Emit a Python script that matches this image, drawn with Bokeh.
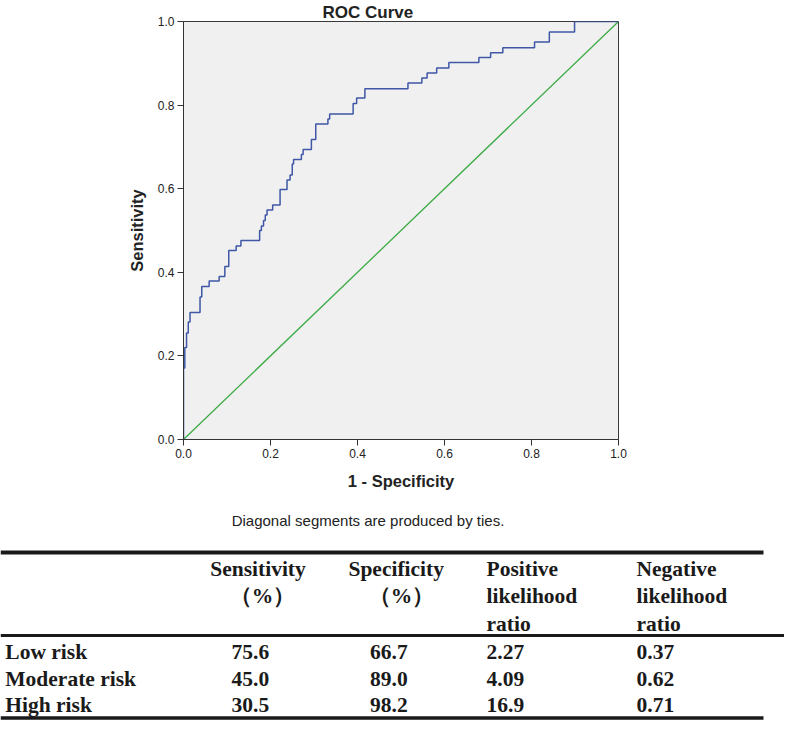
from bokeh.plotting import figure
from bokeh.models import Range1d, FixedTicker, ColumnDataSource
from bokeh.layouts import column
from bokeh.embed import file_html
from bokeh.resources import INLINE
from bokeh.core.properties import value

# ---------------- data ----------------
# ROC curve: at each fpr value the curve rises to the matching tpr value
fpr = [0.000, 0.003, 0.007, 0.011, 0.015, 0.038, 0.042, 0.059, 0.082, 0.095,
       0.104, 0.121, 0.132, 0.175, 0.179, 0.184, 0.188, 0.192, 0.205, 0.222,
       0.238, 0.245, 0.250, 0.253, 0.271, 0.275, 0.294, 0.304, 0.332, 0.336,
       0.390, 0.398, 0.417, 0.516, 0.548, 0.560, 0.582, 0.610, 0.679, 0.706,
       0.734, 0.807, 0.841, 0.899]
tpr = [0.171, 0.220, 0.255, 0.281, 0.304, 0.341, 0.366, 0.379, 0.390, 0.414,
       0.452, 0.463, 0.476, 0.500, 0.511, 0.524, 0.537, 0.549, 0.561, 0.598,
       0.621, 0.633, 0.659, 0.670, 0.682, 0.694, 0.718, 0.755, 0.767, 0.779,
       0.804, 0.817, 0.839, 0.853, 0.865, 0.877, 0.889, 0.902, 0.914, 0.925,
       0.937, 0.951, 0.975, 1.000]
ref_x = [0.0, 1.0]
ref_y = [0.0, 1.0]
axis_ticks = [0.0, 0.2, 0.4, 0.6, 0.8, 1.0]

row_labels = ["Low risk", "Moderate risk", "High risk"]
sensitivity = ["75.6", "45.0", "30.5"]
specificity = ["66.7", "89.0", "98.2"]
plr = ["2.27", "4.09", "16.9"]
nlr = ["0.37", "0.62", "0.71"]
header_sens = ["Sensitivity", "\uff08%\uff09"]
header_spec = ["Specificity", "\uff08%\uff09"]
header_plr = ["Positive", "likelihood", "ratio"]
header_nlr = ["Negative", "likelihood", "ratio"]

W = 784
H1 = 505                  # ROC figure (with its title); table gets the rest
H2 = 720 - H1
FL, FR = 183, 618         # ROC frame left/right (canvas px)
FRAME_BOTTOM = 439

# ---------------- ROC figure ----------------
p = figure(width=W, height=H1, output_backend="svg", toolbar_location=None,
           title="ROC Curve",
           x_range=Range1d(0, 1), y_range=Range1d(0, 1),
           min_border_left=FL, min_border_right=W - FR,
           min_border_top=0, min_border_bottom=H1 - FRAME_BOTTOM)
p.frame_align = False
p.title.align = "left"
p.title.offset = 139
p.title.standoff = 0
p.title.text_font = "Liberation Sans"
p.title.text_font_style = "bold"
p.title.text_font_size = "17px"
p.title.text_color = "#222222"
p.background_fill_color = "#f0f0f0"
p.border_fill_color = "white"
p.outline_line_color = "#3a3a3a"
p.outline_line_width = 1
p.xgrid.visible = False
p.ygrid.visible = False

xs, ys = [0.0], [0.0]
for fx, ty in zip(fpr, tpr):
    xs.append(fx); ys.append(ys[-1])
    xs.append(fx); ys.append(ty)
xs.append(1.0); ys.append(ys[-1])

p.line(ref_x, ref_y, line_color="#3cab45", line_width=1.3)
p.line(xs, ys, line_color="#3f57a6", line_width=1.5)

for ax in (p.xaxis[0], p.yaxis[0]):
    ax.ticker = FixedTicker(ticks=axis_ticks)
    ax.minor_tick_line_color = None
    ax.major_tick_in = 0
    ax.major_tick_out = 6
    ax.major_tick_line_color = "#333333"
    ax.axis_line_color = "#333333"
    ax.major_label_text_font = "Liberation Sans"
    ax.major_label_text_font_size = "12px"
    ax.major_label_text_color = "#222222"
    ax.axis_label_text_font = "Liberation Sans"
    ax.axis_label_text_font_style = "bold"
    ax.axis_label_text_font_size = "16.5px"
    ax.axis_label_text_color = "#222222"
    ax.major_label_standoff = 3
p.xaxis.major_label_overrides = {t: f"{t:.1f}" for t in axis_ticks}
p.yaxis.major_label_overrides = {t: f"{t:.1f}" for t in axis_ticks}
p.xaxis.axis_label = "1 - Specificity"
p.yaxis.axis_label = "Sensitivity"
p.xaxis.axis_label_standoff = 11
p.yaxis.axis_label_standoff = 9

# ---------------- footnote + table ----------------
t = figure(width=W, height=H2, output_backend="svg", toolbar_location=None,
           x_range=Range1d(0, W), y_range=Range1d(H2, 0),
           min_border=0, min_border_left=0, min_border_right=0,
           min_border_top=0, min_border_bottom=0)
t.frame_align = False
t.axis.visible = False
t.xgrid.visible = False
t.ygrid.visible = False
t.outline_line_color = None
t.background_fill_color = "white"
t.border_fill_color = "white"


def ly(v):
    return v - H1


t.text(x=[367.5], y=[ly(519.7)], text=["Diagonal segments are produced by ties."],
       text_align="center", text_baseline="middle", text_font=value("Liberation Sans"),
       text_font_size="15px", text_color="#222222")

rule_y = [ly(552), ly(635), ly(717.5)]
t.segment(x0=[0, 0, 0], y0=rule_y, x1=[763, W, 763], y1=rule_y,
          line_color="#1a1a1a", line_width=[4, 3, 3.5])

hdr_rows = [ly(568.5), ly(595.5), ly(623)]
data_rows = [ly(651), ly(678), ly(704.5)]
col_left = [231, 369.5, 486, 636]
serif = value("Liberation Serif")


def put(xv, yv, txt, align="left"):
    src = ColumnDataSource(dict(x=xv, y=yv, text=txt))
    t.text(x="x", y="y", text="text", source=src, text_align=align,
           text_baseline="middle", text_font=serif, text_font_style="bold",
           text_font_size="21.5px", text_color="#1a1a1a")


put([257.5, 262], hdr_rows[:2], header_sens, "center")
put([395.7, 401], hdr_rows[:2], header_spec, "center")
put([col_left[2]] * 3, hdr_rows, header_plr)
put([col_left[3]] * 3, hdr_rows, header_nlr)

put([4.8] * 3, data_rows, row_labels)
put([col_left[0]] * 3, data_rows, sensitivity)
put([col_left[1]] * 3, data_rows, specificity)
put([col_left[2]] * 3, data_rows, plr)
put([col_left[3]] * 3, data_rows, nlr)

layout = column(p, t, spacing=0)
open("out.html", "w").write(file_html(layout, INLINE))
